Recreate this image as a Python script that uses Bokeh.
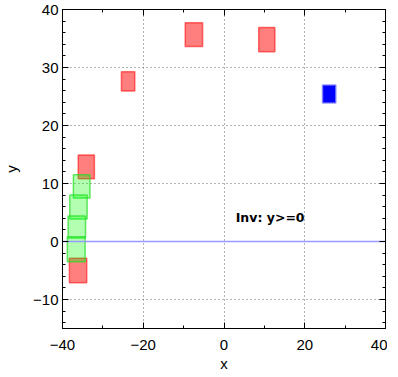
from bokeh.plotting import figure
from bokeh.models import Range1d, LinearAxis, SingleIntervalTicker, Label, CustomJSTickFormatter
from bokeh.embed import file_html
from bokeh.resources import INLINE

# data: rectangles (center x, center y, width, height)
red_x = [-34.1, -36.15, -23.75, -7.45, 10.6]
red_y = [12.85, -5.0, 27.6, 35.65, 34.8]
red_w = [4.0, 4.3, 3.3, 4.3, 4.0]
red_h = [4.1, 4.2, 3.3, 4.1, 4.2]

green_x = [-35.25, -36.05, -36.45, -36.6]
green_y = [9.5, 5.95, 2.5, -1.35]
green_w = [4.1, 4.3, 4.3, 4.4]
green_h = [4.0, 4.1, 3.8, 4.3]

blue_x = [26.05]
blue_y = [25.45]
blue_w = [3.3]
blue_h = [3.1]

line_level = [0]
label_text = "Inv: y>=0"
label_pos = (2.9, 4.2)

FONT = "Liberation Sans"

p = figure(output_backend="svg", toolbar_location=None,
           frame_width=323, frame_height=319,
           min_border_left=62, min_border_right=2, min_border_top=9, min_border_bottom=44,
           x_range=Range1d(-40, 40), y_range=Range1d(-15, 40),
           x_axis_label="x", y_axis_label="y")
p.background_fill_color = "white"
p.border_fill_color = "white"
p.outline_line_color = "black"

xt = SingleIntervalTicker(interval=20, num_minor_ticks=2)
yt = SingleIntervalTicker(interval=10, num_minor_ticks=5)
p.xaxis.ticker = xt
p.yaxis.ticker = yt
p.xgrid.ticker = xt
p.ygrid.ticker = yt

for ax in (p.xaxis[0], p.yaxis[0]):
    ax.major_tick_in = 6
    ax.major_tick_out = 0
    ax.minor_tick_in = 3
    ax.minor_tick_out = 0
    ax.axis_line_color = "black"
    ax.major_tick_line_color = "black"
    ax.minor_tick_line_color = "black"
    ax.major_label_text_font = FONT
    ax.major_label_text_font_size = "15px"
    ax.major_label_text_color = "black"
    ax.axis_label_text_font = FONT
    ax.axis_label_text_font_size = "15px"
    ax.axis_label_text_font_style = "normal"
    ax.axis_label_text_color = "black"

p.xaxis.major_label_standoff = 11
p.xaxis.axis_label_standoff = 2
p.yaxis.major_label_standoff = 4
p.yaxis.axis_label_standoff = 10

for loc, tk in (("right", yt), ("above", xt)):
    ax = LinearAxis(ticker=tk, formatter=CustomJSTickFormatter(code="return '';"))
    ax.major_tick_in = 6
    ax.major_tick_out = 0
    ax.minor_tick_in = 3
    ax.minor_tick_out = 0
    ax.major_label_text_font_size = "0px"
    ax.major_label_standoff = 0
    ax.axis_line_color = "black"
    p.add_layout(ax, loc)

for g in (p.xgrid[0], p.ygrid[0]):
    g.grid_line_color = "#666666"
    g.grid_line_dash = "1 3"
    g.grid_line_width = 1

p.rect(x=red_x, y=red_y, width=red_w, height=red_h,
       fill_color="red", fill_alpha=0.5, line_color="red", line_alpha=0.55, line_width=1.5)
p.rect(x=green_x, y=green_y, width=green_w, height=green_h,
       fill_color="lime", fill_alpha=0.3, line_color="#22dd22", line_alpha=0.7, line_width=1.5)
p.rect(x=blue_x, y=blue_y, width=blue_w, height=blue_h,
       fill_color="blue", fill_alpha=1.0, line_color="#8080ff", line_alpha=0.8, line_width=1.5)

p.hspan(y=line_level, line_color="#9999ff", line_alpha=1.0, line_width=1.5)

p.add_layout(Label(x=label_pos[0], y=label_pos[1], text=label_text,
                   text_font="DejaVu Sans", text_font_size="12.5px", text_font_style="bold",
                   text_color="black", text_baseline="alphabetic"))

open("out.html", "w").write(file_html(p, INLINE))
